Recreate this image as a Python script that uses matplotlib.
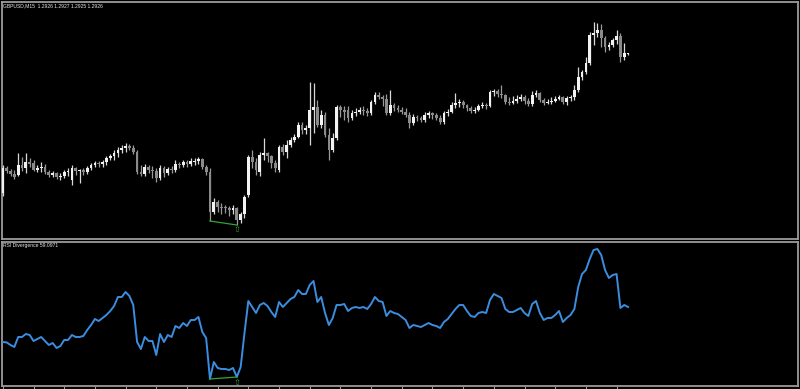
import matplotlib
matplotlib.use("Agg")
import matplotlib.pyplot as plt
import numpy as np

symbol_label = "GBPUSD,M15  1.2926 1.2927 1.2925 1.2926"
rsi_label = "RSI Divergence 59.0971"

opens = [1.2787,1.2812,1.2809,1.2806,1.2805,1.2815,1.2812,1.2818,1.2817,1.2810,
1.2812,1.2813,1.2808,1.2805,1.2807,1.2803,1.2804,1.2808,1.2800,1.2812,
1.2809,1.2810,1.2808,1.2812,1.2815,1.2817,1.2816,1.2818,1.2822,1.2824,
1.2827,1.2830,1.2832,1.2834,1.2832,1.2828,1.2808,1.2806,1.2813,1.2810,
1.2809,1.2802,1.2812,1.2807,1.2811,1.2810,1.2816,1.2815,1.2818,1.2816,
1.2818,1.2819,1.2821,1.2813,1.2808,1.2768,1.2778,1.2773,1.2773,1.2772,
1.2770,1.2772,1.2760,1.2766,1.2785,1.2823,1.2818,1.2808,1.2825,1.2827,
1.2824,1.2817,1.2810,1.2833,1.2828,1.2835,1.2840,1.2843,1.2855,1.2850,
1.2852,1.2870,1.2873,1.2855,1.2865,1.2845,1.2830,1.2842,1.2873,1.2870,
1.2870,1.2862,1.2867,1.2868,1.2870,1.2869,1.2867,1.2878,1.2885,1.2883,
1.2881,1.2867,1.2875,1.2872,1.2870,1.2868,1.2865,1.2857,1.2863,1.2862,
1.2860,1.2865,1.2867,1.2865,1.2862,1.2858,1.2867,1.2868,1.2875,1.2877,
1.2878,1.2875,1.2872,1.2869,1.2870,1.2874,1.2875,1.2874,1.2888,1.2889,
1.2886,1.2885,1.2878,1.2877,1.2879,1.2881,1.2883,1.2879,1.2876,1.2885,
1.2887,1.2880,1.2877,1.2878,1.2879,1.2881,1.2883,1.2878,1.2882,1.2883,
1.2890,1.2903,1.2908,1.2917,1.2945,1.2947,1.2950,1.2942,1.2933,1.2935,
1.2940,1.2944,1.2923,1.2926]

highs = [1.2815,1.2814,1.2811,1.2810,1.2827,1.2823,1.2827,1.2822,1.2820,1.2815,
1.2818,1.2816,1.2810,1.2809,1.2808,1.2807,1.2810,1.2812,1.2815,1.2813,
1.2811,1.2812,1.2814,1.2817,1.2819,1.2819,1.2820,1.2824,1.2826,1.2830,
1.2833,1.2835,1.2837,1.2836,1.2835,1.2830,1.2815,1.2816,1.2815,1.2814,
1.2812,1.2815,1.2814,1.2813,1.2814,1.2820,1.2818,1.2820,1.2820,1.2822,
1.2822,1.2823,1.2822,1.2815,1.2812,1.2782,1.2780,1.2777,1.2775,1.2774,
1.2775,1.2773,1.2768,1.2785,1.2825,1.2830,1.2822,1.2828,1.2842,1.2828,
1.2825,1.2820,1.2835,1.2836,1.2840,1.2843,1.2846,1.2858,1.2858,1.2855,
1.2898,1.2897,1.2880,1.2870,1.2868,1.2852,1.2847,1.2875,1.2875,1.2874,
1.2874,1.2870,1.2872,1.2873,1.2874,1.2872,1.2880,1.2888,1.2888,1.2885,
1.2886,1.2890,1.2877,1.2875,1.2873,1.2872,1.2868,1.2866,1.2865,1.2864,
1.2868,1.2869,1.2868,1.2867,1.2865,1.2869,1.2871,1.2878,1.2887,1.2881,
1.2880,1.2876,1.2874,1.2873,1.2876,1.2878,1.2877,1.2890,1.2891,1.2891,
1.2895,1.2886,1.2883,1.2884,1.2885,1.2886,1.2885,1.2882,1.2889,1.2890,
1.2888,1.2882,1.2881,1.2883,1.2884,1.2885,1.2884,1.2884,1.2885,1.2895,
1.2913,1.2910,1.2923,1.2948,1.2958,1.2957,1.2956,1.2944,1.2938,1.2942,
1.2950,1.2947,1.2937,1.2927]

lows = [1.2784,1.2807,1.2804,1.2801,1.2804,1.2809,1.2807,1.2813,1.2809,1.2808,
1.2808,1.2806,1.2803,1.2803,1.2801,1.2800,1.2802,1.2804,1.2795,1.2805,
1.2797,1.2805,1.2806,1.2810,1.2813,1.2813,1.2813,1.2815,1.2820,1.2820,
1.2823,1.2827,1.2828,1.2830,1.2826,1.2806,1.2804,1.2804,1.2807,1.2802,
1.2798,1.2800,1.2803,1.2805,1.2807,1.2808,1.2812,1.2813,1.2813,1.2814,
1.2815,1.2816,1.2811,1.2805,1.2759,1.2766,1.2768,1.2766,1.2767,1.2764,
1.2766,1.2755,1.2757,1.2762,1.2783,1.2812,1.2805,1.2804,1.2820,1.2818,
1.2812,1.2808,1.2808,1.2825,1.2822,1.2833,1.2838,1.2842,1.2846,1.2846,
1.2835,1.2847,1.2853,1.2852,1.2843,1.2820,1.2828,1.2840,1.2863,1.2860,
1.2858,1.2860,1.2864,1.2866,1.2865,1.2864,1.2865,1.2876,1.2881,1.2874,
1.2865,1.2865,1.2869,1.2868,1.2866,1.2863,1.2852,1.2855,1.2859,1.2858,
1.2858,1.2862,1.2861,1.2860,1.2856,1.2856,1.2864,1.2867,1.2872,1.2873,
1.2872,1.2869,1.2867,1.2867,1.2869,1.2872,1.2871,1.2873,1.2884,1.2883,
1.2882,1.2876,1.2875,1.2876,1.2877,1.2879,1.2876,1.2874,1.2874,1.2883,
1.2878,1.2875,1.2876,1.2876,1.2878,1.2880,1.2876,1.2875,1.2879,1.2880,
1.2888,1.2900,1.2906,1.2915,1.2935,1.2943,1.2933,1.2928,1.2930,1.2933,
1.2936,1.2918,1.2920,1.2925]

closes = [1.2812,1.2809,1.2806,1.2803,1.2815,1.2812,1.2818,1.2816,1.2810,1.2812,
1.2813,1.2808,1.2805,1.2807,1.2803,1.2804,1.2808,1.2809,1.2812,1.2809,
1.2810,1.2808,1.2812,1.2815,1.2817,1.2816,1.2818,1.2822,1.2824,1.2827,
1.2830,1.2832,1.2834,1.2832,1.2828,1.2808,1.2806,1.2813,1.2810,1.2809,
1.2802,1.2812,1.2807,1.2811,1.2810,1.2816,1.2815,1.2818,1.2816,1.2819,
1.2819,1.2821,1.2813,1.2808,1.2768,1.2778,1.2773,1.2772,1.2772,1.2770,
1.2772,1.2760,1.2766,1.2783,1.2823,1.2818,1.2810,1.2825,1.2827,1.2824,
1.2817,1.2812,1.2833,1.2828,1.2835,1.2840,1.2843,1.2855,1.2850,1.2852,
1.2870,1.2873,1.2855,1.2865,1.2845,1.2830,1.2842,1.2873,1.2870,1.2868,
1.2862,1.2867,1.2868,1.2870,1.2869,1.2867,1.2878,1.2885,1.2883,1.2881,
1.2867,1.2875,1.2872,1.2870,1.2868,1.2865,1.2857,1.2863,1.2862,1.2860,
1.2865,1.2867,1.2865,1.2862,1.2858,1.2867,1.2868,1.2875,1.2877,1.2878,
1.2875,1.2872,1.2869,1.2870,1.2874,1.2875,1.2874,1.2888,1.2889,1.2886,
1.2885,1.2878,1.2877,1.2879,1.2881,1.2883,1.2879,1.2876,1.2885,1.2887,
1.2880,1.2877,1.2878,1.2879,1.2881,1.2883,1.2878,1.2882,1.2883,1.2890,
1.2903,1.2908,1.2917,1.2945,1.2947,1.2950,1.2942,1.2933,1.2935,1.2940,
1.2944,1.2923,1.2927,1.2926]

rsi = [41.6,41.4,40.1,39.1,44.1,44.1,45.6,45.1,42.1,43.1,
44.1,42.1,40.1,41.1,38.6,39.6,42.6,42.6,45.1,44.1,
44.1,44.6,47.6,50.1,53.1,52.1,53.6,55.1,57.1,59.6,
64.1,64.1,66.6,64.6,60.1,41.6,38.1,44.1,42.1,42.1,
35.1,45.6,41.6,45.1,44.1,49.6,48.6,51.1,49.6,52.6,
52.6,54.1,46.6,43.6,23.1,31.6,28.6,28.1,28.1,27.6,
28.6,24.1,29.1,46.1,62.1,59.1,56.1,60.1,61.1,59.6,
56.6,54.1,61.6,59.1,61.1,63.1,64.1,67.6,65.6,65.6,
70.1,72.1,61.6,64.1,56.1,50.1,53.6,60.1,60.1,60.6,
57.1,58.6,59.1,58.6,59.1,58.1,60.6,64.1,62.1,61.6,
54.6,57.1,56.1,55.6,54.1,52.6,48.6,50.1,49.6,49.1,
50.1,51.1,50.1,49.6,48.6,51.6,53.1,55.6,58.1,60.1,
60.1,57.1,54.6,54.1,56.1,56.6,56.1,62.6,65.6,64.6,
63.6,58.1,56.6,56.6,57.6,58.6,56.1,54.6,60.6,62.1,
56.1,52.6,53.6,53.6,55.1,57.1,51.6,53.6,55.1,58.1,
69.1,75.6,77.6,83.1,87.6,88.1,85.1,77.6,73.6,75.1,
75.6,58.6,60.1,59.0971]

div_start = 54
div_end = 61

W, H = 800, 389
fig = plt.figure(figsize=(W / 100, H / 100), dpi=100, facecolor="black")

def fx(px):
    return px / W

def fy(py):
    return 1 - py / H

ax1 = fig.add_axes([fx(1.5), fy(239), fx(798) - fx(1.5), fy(1.5) - fy(239)])
ax2 = fig.add_axes([fx(1.5), fy(386), fx(798) - fx(1.5), fy(241.5) - fy(386)])

x = np.arange(len(closes))
o = np.array(opens); h = np.array(highs); l = np.array(lows); c = np.array(closes)
up = c >= o

bull_col = "#f2f2f2"
bear_col = "#8a8a8a"
wick_cols = np.where(up, "#d8d8d8", "#9a9a9a")

for a in (ax1, ax2):
    a.set_facecolor("black")
    a.set_xlim(-0.35, 207.3)
    for s in a.spines.values():
        s.set_color("#9c9c9c")
        s.set_linewidth(1.3)

ax1.vlines(x, l, h, colors=wick_cols, linewidth=0.9, zorder=2)
body_bottom = np.minimum(o, c)
body_h = np.maximum(np.abs(c - o), 0.00006)
ax1.bar(x[up], body_h[up], bottom=body_bottom[up], width=0.72, color=bull_col, edgecolor="none", zorder=3)
ax1.bar(x[~up], body_h[~up], bottom=body_bottom[~up], width=0.72, color=bear_col, edgecolor="none", zorder=3)

ax1.set_ylim(1.2741, 1.29785)
ax1.set_xticks([]); ax1.set_yticks([])

green = "#36a336"
ax1.plot([div_start, div_end], [lows[div_start], lows[div_end]], color=green, linewidth=0.9, zorder=4)
ax1.text(div_end, lows[div_end] - 0.00005, "\u21e7", color=green, fontsize=6, ha="center", va="top",
         family="DejaVu Sans", zorder=5)

ax2.plot(x, rsi, color="#3b8de0", linewidth=1.4, zorder=3)
ax2.plot([div_start, div_end], [rsi[div_start], rsi[div_end]], color=green, linewidth=0.9, zorder=4)
ax2.text(div_end, rsi[div_end] - 0.6, "\u21e7", color=green, fontsize=6, ha="center", va="top",
         family="DejaVu Sans", zorder=5)
ax2.set_ylim(19.6, 91.85)
ax2.set_yticks([])
ax2.set_xticks(np.arange(0, len(closes), 8))
ax2.tick_params(axis="x", direction="out", length=2.3, width=0.8, color="#9c9c9c", labelbottom=False)

fig.text(fx(3), fy(5.6), symbol_label, color="#e6e6e6", fontsize=3.6, family="Liberation Sans",
         ha="left", va="center")
fig.text(fx(3), fy(245.6), rsi_label, color="#e6e6e6", fontsize=3.6, family="Liberation Sans",
         ha="left", va="center")

fig.savefig("out.png", dpi=100, facecolor="black")
